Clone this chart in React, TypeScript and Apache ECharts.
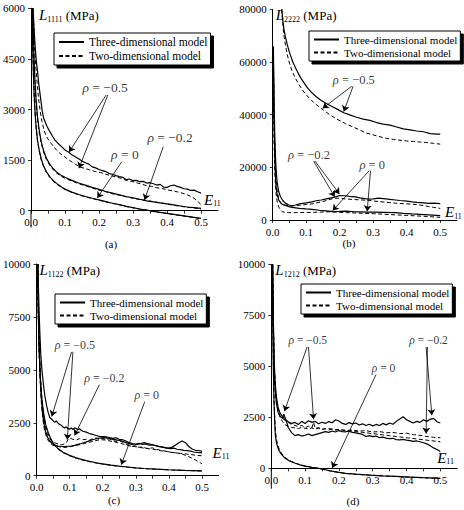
import React, { useEffect, useRef } from "react";
import * as echarts from "echarts";

const FONT = "Liberation Serif";
const NAME_3D = "Three-dimensional model";
const NAME_2D = "Two-dimensional model";

// ---------- tick values ----------
const xLabelTicks = [0, 0.1, 0.2, 0.3, 0.4, 0.5];
const xMinorTicks = [0, 0.05, 0.1, 0.15, 0.2, 0.25, 0.3, 0.35, 0.4, 0.45, 0.5];
const yTicksA = [0, 1500, 3000, 4500, 6000];
const yTicksB = [0, 20000, 40000, 60000, 80000];
const yTicksC = [0, 2500, 5000, 7500, 10000];
const yTicksD = [0, 2500, 5000, 7500, 10000];

// y-axis extension below zero (panels a and d)
const yExtA = [[0, 0], [0, -500]];
const yExtD = [[0, 0], [0, -1000]];

// ---------- panel (a): L1111 ----------
const a_rm05_3d = [[0.006,6000],[0.009,5400],[0.012,4900],[0.015,4500],[0.019,4150],[0.023,3750],[0.028,3350],[0.033,2950],[0.037,2750],[0.042,2620],[0.048,2480],[0.055,2350],[0.062,2230],[0.07,2100],[0.08,1990],[0.09,1900],[0.1,1800],[0.11,1740],[0.12,1660],[0.13,1600],[0.14,1540],[0.15,1470],[0.16,1420],[0.17,1380],[0.18,1300],[0.19,1270],[0.2,1220],[0.21,1190],[0.22,1160],[0.23,1100],[0.24,1080],[0.25,1040],[0.26,1010],[0.27,990],[0.28,920],[0.29,940],[0.3,890],[0.31,900],[0.32,860],[0.33,870],[0.34,820],[0.35,830],[0.36,800],[0.37,760],[0.38,780],[0.39,700],[0.4,690],[0.41,740],[0.42,760],[0.43,720],[0.44,690],[0.45,650],[0.46,640],[0.47,600],[0.48,610],[0.49,560],[0.5,520]];
const a_rm05_2d = [[0.006,6000],[0.01,5000],[0.014,4300],[0.018,3800],[0.022,3350],[0.027,2950],[0.032,2650],[0.038,2400],[0.045,2200],[0.055,2050],[0.065,1920],[0.075,1800],[0.085,1700],[0.1,1590],[0.115,1480],[0.13,1380],[0.145,1290],[0.16,1250],[0.175,1200],[0.19,1160],[0.205,1130],[0.22,1080],[0.235,1040],[0.25,1000],[0.265,960],[0.28,900],[0.295,870],[0.31,830],[0.325,790],[0.34,740],[0.355,720],[0.37,680],[0.385,660],[0.4,620],[0.415,590],[0.43,560],[0.445,520],[0.46,470],[0.475,400],[0.49,290],[0.5,170]];
const a_rm02_3d = [[0.005,6000],[0.007,5200],[0.009,4500],[0.012,3800],[0.015,3300],[0.019,2800],[0.024,2400],[0.03,2050],[0.037,1780],[0.045,1560],[0.055,1380],[0.065,1250],[0.075,1150],[0.09,1040],[0.1,990],[0.12,900],[0.14,820],[0.16,760],[0.18,690],[0.2,630],[0.22,570],[0.24,520],[0.26,470],[0.28,420],[0.3,380],[0.32,340],[0.34,290],[0.36,260],[0.38,230],[0.4,200],[0.42,170],[0.44,140],[0.46,110],[0.48,90],[0.5,70]];
const a_rm02_2d = [[0.005,6000],[0.007,5100],[0.009,4400],[0.012,3700],[0.015,3200],[0.019,2720],[0.024,2330],[0.03,2000],[0.037,1740],[0.045,1520],[0.055,1350],[0.065,1220],[0.075,1120],[0.09,1010],[0.1,960],[0.12,880],[0.14,800],[0.16,740],[0.18,670],[0.2,610],[0.22,560],[0.24,500],[0.26,460],[0.28,410],[0.3,370],[0.32,330],[0.34,300],[0.36,270],[0.38,230],[0.4,200],[0.42,160],[0.44,130],[0.46,100],[0.48,80],[0.5,50]];
const a_r0_3d = [[0.003,6000],[0.005,4900],[0.007,4100],[0.009,3500],[0.012,2900],[0.015,2500],[0.019,2100],[0.024,1800],[0.03,1540],[0.037,1330],[0.045,1160],[0.055,1010],[0.065,900],[0.075,810],[0.09,700],[0.1,640],[0.12,550],[0.14,480],[0.16,420],[0.18,370],[0.2,320],[0.22,270],[0.24,220],[0.26,180],[0.28,130],[0.3,90],[0.32,50],[0.34,20],[0.36,-20],[0.38,-50],[0.4,-80],[0.42,-110],[0.44,-140],[0.46,-170],[0.48,-200],[0.5,-230]];
const a_r0_2d = [[0.003,6000],[0.005,4850],[0.007,4050],[0.009,3450],[0.012,2850],[0.015,2460],[0.019,2070],[0.024,1770],[0.03,1510],[0.037,1300],[0.045,1140],[0.055,990],[0.065,880],[0.075,790],[0.09,690],[0.1,630],[0.12,540],[0.14,470],[0.16,410],[0.18,360],[0.2,310],[0.22,260],[0.24,215],[0.26,175],[0.28,125],[0.3,85],[0.32,45],[0.34,15],[0.36,-25],[0.38,-55],[0.4,-85],[0.42,-115],[0.44,-145],[0.46,-175],[0.48,-205],[0.5,-235]];
const a_labels = [[0.218, 3656, "−0.5"], [0.276, 1680, "0"], [0.409, 2164, "−0.2"]];
const a_arrows = [[0.221, 3430, 0.112, 1740], [0.226, 3430, 0.141, 1260], [0.267, 1452, 0.195, 380], [0.389, 1897, 0.334, 320]];

// ---------- panel (b): L2222 ----------
const b_rm05_3d = [[0.027,80000],[0.03,76000],[0.034,72000],[0.038,69500],[0.043,66800],[0.048,64500],[0.053,62500],[0.06,60000],[0.068,57800],[0.077,55500],[0.086,53500],[0.095,51800],[0.105,50000],[0.117,48300],[0.13,46800],[0.145,45400],[0.16,44200],[0.177,43100],[0.195,41900],[0.212,40700],[0.23,39900],[0.25,39000],[0.27,38300],[0.29,37800],[0.31,37000],[0.33,36400],[0.35,36000],[0.37,35300],[0.39,34600],[0.41,34200],[0.43,33800],[0.45,33500],[0.47,32800],[0.49,32600],[0.5,32600]];
const b_rm05_2d = [[0.027,80000],[0.03,75000],[0.033,70500],[0.038,66500],[0.043,63000],[0.05,59500],[0.058,56500],[0.067,54000],[0.078,51500],[0.088,49500],[0.098,47800],[0.11,46200],[0.125,44300],[0.14,42800],[0.152,41700],[0.17,40000],[0.19,38400],[0.217,36600],[0.24,35300],[0.26,34200],[0.277,33100],[0.3,32300],[0.32,31600],[0.34,31000],[0.36,30600],[0.38,30300],[0.4,30000],[0.42,29800],[0.44,29600],[0.46,29400],[0.48,29100],[0.5,28800]];
const b_rm02_3d = [[0.002,66000],[0.004,46000],[0.006,33000],[0.008,25000],[0.01,19500],[0.013,14500],[0.018,10800],[0.023,8900],[0.03,7400],[0.038,6400],[0.048,5700],[0.058,5400],[0.068,5700],[0.08,6100],[0.09,6300],[0.1,6500],[0.117,6900],[0.13,7300],[0.145,7600],[0.16,8000],[0.175,8400],[0.19,8900],[0.2,9300],[0.215,9200],[0.23,9000],[0.247,8800],[0.26,8400],[0.275,8100],[0.287,7900],[0.3,8000],[0.316,8300],[0.33,8100],[0.35,7800],[0.366,7600],[0.38,7400],[0.4,7200],[0.416,6900],[0.43,6700],[0.45,6500],[0.466,6300],[0.48,6400],[0.5,6200]];
const b_rm02_2d = [[0.002,64000],[0.004,42000],[0.006,29000],[0.008,21000],[0.01,16000],[0.013,11500],[0.018,8000],[0.023,6600],[0.03,6000],[0.038,5700],[0.048,5400],[0.058,5300],[0.068,5400],[0.08,5600],[0.1,5900],[0.117,6100],[0.13,6500],[0.15,7000],[0.165,7600],[0.182,8200],[0.2,8300],[0.217,8000],[0.24,7800],[0.267,7600],[0.29,7400],[0.316,7000],[0.34,6700],[0.366,6400],[0.39,6200],[0.416,6000],[0.44,5700],[0.466,5100],[0.48,4800],[0.5,4400]];
const b_r0_3d = [[0.002,60000],[0.004,38000],[0.006,25000],[0.008,17000],[0.01,12500],[0.013,9800],[0.018,7600],[0.025,6300],[0.033,5700],[0.045,5200],[0.058,4800],[0.08,4400],[0.1,4200],[0.117,4050],[0.14,3700],[0.16,3500],[0.18,3200],[0.2,3300],[0.217,3400],[0.24,3200],[0.26,3100],[0.282,3000],[0.3,3000],[0.33,2900],[0.366,2800],[0.39,2550],[0.416,2300],[0.44,2150],[0.466,1950],[0.5,1650]];
const b_r0_2d = [[0.002,50000],[0.004,30000],[0.006,19000],[0.008,13500],[0.011,9000],[0.014,6500],[0.018,5000],[0.023,3900],[0.028,3200],[0.035,2900],[0.048,2800],[0.07,2800],[0.1,2850],[0.117,2900],[0.14,3000],[0.167,3100],[0.19,3000],[0.22,2800],[0.25,2650],[0.267,2550],[0.3,2400],[0.33,2200],[0.366,1950],[0.4,1750],[0.43,1550],[0.466,1300],[0.5,1000]];
const b_labels = [[0.242, 53170, "−0.5"], [0.108, 24690, "−0.2"], [0.297, 20900, "0"]];
const b_arrows = [[0.236, 50800, 0.149, 42400], [0.24, 50800, 0.212, 41200], [0.122, 22400, 0.185, 8800], [0.126, 22400, 0.199, 9900], [0.288, 18700, 0.179, 3600], [0.292, 18700, 0.282, 3300]];

// ---------- panel (c): L1122 ----------
const c_rm05_3d = [[0.004,10000],[0.007,8200],[0.01,6800],[0.013,5700],[0.017,4900],[0.021,4300],[0.025,3800],[0.03,3350],[0.035,3000],[0.04,2750],[0.045,2680],[0.05,2600],[0.055,2520],[0.06,2580],[0.065,2480],[0.07,2420],[0.075,2380],[0.08,2300],[0.085,2250],[0.09,2310],[0.095,2220],[0.1,2200],[0.105,2250],[0.11,2180],[0.115,2260],[0.12,2230],[0.125,2170],[0.13,2220],[0.135,2150],[0.14,2100],[0.15,2060],[0.16,1990],[0.17,1950],[0.18,1900],[0.19,1860],[0.2,1850],[0.21,1830],[0.22,1800],[0.23,1760],[0.24,1790],[0.25,1720],[0.26,1700],[0.27,1640],[0.28,1560],[0.29,1520],[0.3,1490],[0.31,1530],[0.32,1480],[0.33,1500],[0.34,1440],[0.35,1460],[0.36,1420],[0.37,1380],[0.38,1360],[0.39,1310],[0.4,1300],[0.41,1350],[0.42,1450],[0.43,1560],[0.44,1640],[0.45,1560],[0.46,1380],[0.47,1260],[0.48,1200],[0.49,1190],[0.5,1150]];
const c_rm05_2d = [[0.004,10000],[0.006,7800],[0.008,6300],[0.011,5000],[0.014,4000],[0.018,3200],[0.022,2650],[0.027,2250],[0.033,1950],[0.04,1750],[0.047,1620],[0.055,1550],[0.065,1500],[0.075,1460],[0.085,1500],[0.09,1560],[0.095,1700],[0.1,1780],[0.11,1720],[0.12,1680],[0.13,1750],[0.14,1700],[0.15,1720],[0.16,1680],[0.17,1740],[0.18,1780],[0.19,1720],[0.2,1760],[0.21,1700],[0.22,1740],[0.23,1660],[0.24,1620],[0.25,1650],[0.26,1580],[0.27,1500],[0.28,1420],[0.29,1380],[0.3,1400],[0.31,1340],[0.32,1360],[0.33,1300],[0.34,1280],[0.35,1320],[0.36,1250],[0.37,1220],[0.38,1180],[0.39,1160],[0.4,1120],[0.41,1100],[0.42,1080],[0.43,1060],[0.44,1020],[0.45,960],[0.46,900],[0.47,820],[0.48,740],[0.49,650],[0.5,560]];
const c_rm02_3d = [[0.004,10000],[0.006,7600],[0.008,6000],[0.011,4700],[0.014,3800],[0.018,3000],[0.022,2500],[0.027,2100],[0.033,1820],[0.04,1640],[0.047,1520],[0.055,1450],[0.065,1400],[0.075,1380],[0.085,1370],[0.095,1390],[0.105,1400],[0.115,1430],[0.125,1480],[0.135,1520],[0.145,1570],[0.155,1620],[0.165,1680],[0.175,1720],[0.185,1760],[0.195,1790],[0.205,1800],[0.215,1770],[0.225,1740],[0.235,1700],[0.245,1680],[0.255,1650],[0.265,1600],[0.275,1540],[0.285,1490],[0.295,1450],[0.305,1480],[0.315,1520],[0.325,1560],[0.335,1520],[0.345,1480],[0.355,1440],[0.365,1400],[0.375,1360],[0.385,1340],[0.395,1300],[0.405,1280],[0.415,1300],[0.425,1250],[0.435,1230],[0.445,1200],[0.455,1180],[0.465,1160],[0.475,1120],[0.485,1100],[0.5,1080]];
const c_rm02_2d = [[0.004,10000],[0.006,7400],[0.008,5800],[0.011,4500],[0.014,3600],[0.018,2850],[0.022,2350],[0.027,1980],[0.033,1720],[0.04,1560],[0.047,1460],[0.055,1400],[0.065,1380],[0.075,1350],[0.085,1330],[0.095,1360],[0.105,1380],[0.115,1420],[0.125,1450],[0.135,1480],[0.145,1520],[0.155,1560],[0.165,1600],[0.175,1640],[0.185,1680],[0.195,1700],[0.205,1690],[0.215,1660],[0.225,1630],[0.235,1600],[0.245,1560],[0.255,1520],[0.265,1480],[0.275,1430],[0.285,1400],[0.295,1380],[0.305,1360],[0.315,1330],[0.325,1300],[0.335,1280],[0.345,1260],[0.355,1240],[0.365,1210],[0.375,1180],[0.385,1160],[0.395,1140],[0.405,1110],[0.415,1090],[0.425,1070],[0.435,1050],[0.445,1040],[0.455,1020],[0.465,1000],[0.475,980],[0.485,960],[0.5,940]];
const c_r0_3d = [[0.003,10000],[0.005,8000],[0.007,6500],[0.01,5200],[0.013,4300],[0.017,3500],[0.022,2900],[0.028,2400],[0.035,2050],[0.043,1750],[0.052,1500],[0.065,1280],[0.08,1110],[0.1,960],[0.12,840],[0.15,710],[0.18,610],[0.2,560],[0.225,500],[0.25,450],[0.275,410],[0.3,370],[0.325,340],[0.35,320],[0.375,300],[0.4,280],[0.425,265],[0.45,250],[0.475,240],[0.5,230]];
const c_r0_2d = [[0.003,10000],[0.005,7900],[0.007,6400],[0.01,5100],[0.013,4200],[0.017,3420],[0.022,2840],[0.028,2350],[0.035,2000],[0.043,1710],[0.052,1470],[0.065,1250],[0.08,1090],[0.1,940],[0.12,825],[0.15,695],[0.18,600],[0.2,550],[0.225,490],[0.25,440],[0.275,400],[0.3,365],[0.325,335],[0.35,312],[0.375,292],[0.4,272],[0.425,258],[0.45,244],[0.475,232],[0.5,222]];
const c_labels = [[0.116, 6174, "−0.5"], [0.205, 4600, "−0.2"], [0.333, 3812, "0"]];
const c_arrows = [[0.106, 5850, 0.046, 2800], [0.11, 5850, 0.093, 1700], [0.19, 4300, 0.115, 1900], [0.327, 3500, 0.256, 520]];

// ---------- panel (d): L1212 ----------
const d_rm02_3d = [[0.004,10000],[0.006,7400],[0.008,5600],[0.011,4300],[0.015,3500],[0.02,3000],[0.026,2700],[0.033,2550],[0.04,2400],[0.05,2280],[0.06,2200],[0.07,2250],[0.08,2150],[0.09,2300],[0.1,2200],[0.11,2330],[0.12,2250],[0.13,2300],[0.14,2180],[0.15,2260],[0.16,2200],[0.17,2290],[0.18,2230],[0.19,2380],[0.2,2320],[0.21,2200],[0.22,2150],[0.23,2240],[0.24,2180],[0.25,2220],[0.26,2120],[0.27,2180],[0.28,2100],[0.29,2160],[0.3,2080],[0.31,2150],[0.32,2100],[0.33,2200],[0.34,2130],[0.35,2220],[0.36,2160],[0.37,2300],[0.38,2420],[0.39,2530],[0.4,2380],[0.41,2300],[0.42,2220],[0.43,2300],[0.44,2250],[0.45,2380],[0.46,2300],[0.47,2400],[0.48,2450],[0.49,2280],[0.5,2220]];
const d_rm02_2d = [[0.004,10000],[0.006,7200],[0.008,5400],[0.011,4100],[0.015,3300],[0.02,2800],[0.026,2500],[0.033,2300],[0.04,2150],[0.05,2050],[0.06,2000],[0.07,1980],[0.08,1950],[0.09,2000],[0.1,1960],[0.11,1930],[0.12,1980],[0.13,1920],[0.14,1960],[0.15,1900],[0.16,1940],[0.17,1880],[0.18,1920],[0.19,1870],[0.2,1900],[0.22,1850],[0.24,1880],[0.26,1820],[0.28,1850],[0.3,1780],[0.32,1800],[0.34,1740],[0.36,1760],[0.38,1700],[0.4,1720],[0.42,1650],[0.44,1620],[0.46,1560],[0.48,1520],[0.5,1500]];
const d_rm05_3d = [[0.004,10000],[0.006,7000],[0.008,5200],[0.011,4000],[0.015,3200],[0.02,2750],[0.026,2550],[0.033,2450],[0.037,2650],[0.045,2300],[0.05,2000],[0.06,1750],[0.07,1600],[0.08,1650],[0.09,1580],[0.1,1620],[0.11,1680],[0.12,1600],[0.13,1650],[0.14,1700],[0.15,1750],[0.16,1800],[0.17,1760],[0.18,1830],[0.19,1780],[0.2,1850],[0.21,1800],[0.22,1790],[0.23,1820],[0.24,1760],[0.25,1740],[0.26,1700],[0.27,1660],[0.28,1560],[0.29,1600],[0.3,1550],[0.31,1580],[0.32,1500],[0.33,1530],[0.34,1480],[0.35,1450],[0.36,1470],[0.37,1400],[0.38,1390],[0.39,1420],[0.4,1380],[0.41,1360],[0.42,1320],[0.43,1340],[0.44,1300],[0.45,1250],[0.46,1200],[0.47,1100],[0.48,1000],[0.49,920],[0.5,820]];
const d_rm05_2d = [[0.004,10000],[0.006,7200],[0.008,5400],[0.011,4100],[0.015,3300],[0.02,2800],[0.026,2550],[0.033,2450],[0.04,2350],[0.05,2250],[0.06,2150],[0.07,2100],[0.08,2050],[0.09,2100],[0.1,2000],[0.11,2060],[0.12,1980],[0.125,2250],[0.13,1950],[0.14,2000],[0.15,1920],[0.17,1950],[0.19,1900],[0.21,1880],[0.23,1850],[0.25,1800],[0.27,1760],[0.29,1720],[0.31,1680],[0.33,1640],[0.35,1600],[0.37,1560],[0.39,1520],[0.41,1480],[0.43,1440],[0.45,1400],[0.47,1360],[0.49,1320],[0.5,1300]];
const d_r0_3d = [[0.003,10000],[0.004,8000],[0.005,6300],[0.006,5000],[0.007,4000],[0.008,3200],[0.01,2300],[0.012,1600],[0.016,1200],[0.022,900],[0.03,680],[0.041,490],[0.055,350],[0.071,245],[0.085,170],[0.1,110],[0.12,50],[0.14,0],[0.16,-70],[0.175,-130],[0.2,-200],[0.22,-245],[0.25,-290],[0.29,-330],[0.33,-370],[0.37,-400],[0.41,-430],[0.45,-460],[0.5,-490]];
const d_r0_2d = [[0.003,10000],[0.004,8200],[0.005,6600],[0.006,5300],[0.007,4300],[0.008,3500],[0.01,2600],[0.012,1850],[0.016,1350],[0.022,1000],[0.03,740],[0.041,520],[0.055,370],[0.071,255],[0.085,175],[0.1,110],[0.12,45],[0.14,-5],[0.16,-75],[0.175,-135],[0.2,-205],[0.22,-250],[0.25,-295],[0.29,-335],[0.33,-375],[0.37,-405],[0.41,-435],[0.45,-465],[0.5,-495]];
const d_labels = [[0.108, 6290, "−0.5"], [0.332, 4900, "0"], [0.465, 6290, "−0.2"]];
const d_arrows = [[0.106, 5950, 0.039, 2800], [0.11, 5950, 0.125, 2400], [0.31, 4600, 0.18, 20], [0.458, 5950, 0.475, 2600], [0.462, 5950, 0.458, 1700]];

// ---------- layout (positions / sizes / styles) ----------
const PANELS = [
  { tag: "(a)", tagX: 111, tagY: 244, left: 31, top: 8.3, width: 187, height: 202.4, yMin: 0, yMax: 6000, yTicks: yTicksA, sub: "1111", ext: yExtA,
    nameGap: -6.7, namePad: 8, eGap: -14, ePad: 3, annFont: 13.5, legLeft: 54, legTop: 33, legFont: 11.5,
    s3: [a_rm05_3d, a_rm02_3d, a_r0_3d], s2: [a_rm05_2d, a_rm02_2d, a_r0_2d], labels: a_labels, arrows: a_arrows },
  { tag: "(b)", tagX: 349, tagY: 243, left: 272.7, top: 9.3, width: 184.3, height: 210.7, yMin: 0, yMax: 80000, yTicks: yTicksB, sub: "2222", ext: null,
    nameGap: -5.7, namePad: 3, eGap: -12, ePad: 0, annFont: 12.5, legLeft: 309, legTop: 31, legFont: 11,
    s3: [b_rm05_3d, b_rm02_3d, b_r0_3d], s2: [b_rm05_2d, b_rm02_2d, b_r0_2d], labels: b_labels, arrows: b_arrows },
  { tag: "(c)", tagX: 114, tagY: 500, left: 32.3, top: 264, width: 186.3, height: 211.7, yMin: 0, yMax: 10000, yTicks: yTicksC, sub: "1122", ext: null,
    nameGap: -6, namePad: 3, eGap: -6, ePad: 15, annFont: 12, legLeft: 55, legTop: 294, legFont: 11,
    s3: [c_rm05_3d, c_rm02_3d, c_r0_3d], s2: [c_rm05_2d, c_rm02_2d, c_r0_2d], labels: c_labels, arrows: c_arrows },
  { tag: "(d)", tagX: 353, tagY: 501, left: 271.3, top: 264.3, width: 185.9, height: 204, yMin: 0, yMax: 10000, yTicks: yTicksD, sub: "1212", ext: yExtD,
    nameGap: -6, namePad: 4, eGap: -20, ePad: 2.5, annFont: 11.5, legLeft: 301, legTop: 284, legFont: 11,
    s3: [d_rm05_3d, d_rm02_3d, d_r0_3d], s2: [d_rm05_2d, d_rm02_2d, d_r0_2d], labels: d_labels, arrows: d_arrows },
];

function buildOption() {
  const grid: any[] = [];
  const xAxis: any[] = [];
  const yAxis: any[] = [];
  const series: any[] = [];
  const legend: any[] = [];
  const graphic: any[] = [];
  const black = "#000";

  PANELS.forEach((p, i) => {
    grid.push({ left: p.left, top: p.top, width: p.width, height: p.height, containLabel: false });
    xAxis.push({
      type: "value", gridIndex: i, min: 0, max: 0.55,
      name: "{E|E}{s|11}", nameLocation: "end", nameGap: p.eGap,
      nameTextStyle: {
        align: "left", verticalAlign: "bottom", padding: [0, 0, p.ePad, 0],
        rich: {
          E: { fontFamily: FONT, fontStyle: "italic", fontSize: 15, lineHeight: 16, color: black },
          s: { fontFamily: FONT, fontSize: 8, lineHeight: 8, verticalAlign: "bottom", color: black },
        },
      },
      axisLine: { show: true, onZero: false, lineStyle: { color: black, width: 1 } },
      axisTick: { show: true, customValues: xMinorTicks, length: 3, lineStyle: { color: black, width: 0.8 } },
      axisLabel: { show: true, customValues: xLabelTicks, formatter: (v: number) => v.toFixed(1), margin: 6, fontSize: 11, fontFamily: FONT, color: black },
      splitLine: { show: false },
    });
    yAxis.push({
      type: "value", gridIndex: i, min: p.yMin, max: p.yMax,
      name: `{L|L}{s|${p.sub}}{u| (MPa)}`, nameLocation: "end", nameGap: p.nameGap,
      nameTextStyle: {
        align: "left", verticalAlign: "middle", padding: [0, 0, 0, p.namePad],
        rich: {
          L: { fontFamily: FONT, fontStyle: "italic", fontSize: 15, lineHeight: 16, color: black },
          s: { fontFamily: FONT, fontSize: 8, lineHeight: 8, verticalAlign: "bottom", color: black },
          u: { fontFamily: FONT, fontSize: 13, lineHeight: 16, color: black },
        },
      },
      axisLine: { show: true, onZero: false, lineStyle: { color: black, width: 1 } },
      axisTick: { show: true, customValues: p.yTicks, length: 3, lineStyle: { color: black, width: 0.8 } },
      axisLabel: { show: true, customValues: p.yTicks, formatter: (v: number) => String(v), margin: 6, fontSize: 11, fontFamily: FONT, color: black },
      splitLine: { show: false },
    });

    p.s3.forEach((d) =>
      series.push({
        type: "line", name: NAME_3D, xAxisIndex: i, yAxisIndex: i, data: d, clip: false,
        symbol: "none", showSymbol: false, silent: true, z: 3,
        lineStyle: { color: black, width: 1.2, type: "solid" }, itemStyle: { color: black },
      })
    );
    p.s2.forEach((d) =>
      series.push({
        type: "line", name: NAME_2D, xAxisIndex: i, yAxisIndex: i, data: d, clip: false,
        symbol: "none", showSymbol: false, silent: true, z: 2,
        lineStyle: { color: black, width: 1, type: [4, 2.5] }, itemStyle: { color: black },
      })
    );
    if (p.ext) {
      series.push({
        type: "line", name: "axisExtension" + i, xAxisIndex: i, yAxisIndex: i, data: p.ext, clip: false,
        symbol: "none", showSymbol: false, silent: true, z: 4,
        lineStyle: { color: black, width: 1, type: "solid" },
      });
    }

    series.push({
      type: "scatter", name: "annotation" + i, xAxisIndex: i, yAxisIndex: i, symbolSize: 0, silent: true, z: 5,
      data: p.labels.map((l: any) => ({ value: [l[0], l[1]], name: l[2] })),
      label: {
        show: true, position: "inside",
        formatter: (q: any) => `{g|ρ}{t| = ${q.name}}`,
        rich: {
          g: { fontFamily: FONT, fontStyle: "italic", fontSize: p.annFont, color: black },
          t: { fontFamily: FONT, fontSize: p.annFont, color: black },
        },
      },
      markLine: {
        silent: true, animation: false, symbol: ["none", "arrow"], symbolSize: 6,
        label: { show: false }, emphasis: { disabled: true },
        lineStyle: { color: black, width: 0.8, type: "solid" },
        data: p.arrows.map((a: number[]) => [{ coord: [a[0], a[1]] }, { coord: [a[2], a[3]] }]),
      },
    });

    legend.push({
      data: [NAME_3D, NAME_2D], orient: "vertical", left: p.legLeft, top: p.legTop,
      itemWidth: 25, itemHeight: 10, itemGap: 2, padding: [3, 3, 3, 4],
      backgroundColor: "#fff", borderColor: black, borderWidth: 1, borderRadius: 0,
      shadowColor: black, shadowOffsetX: 3, shadowOffsetY: 3, shadowBlur: 0,
      selectedMode: false,
      itemStyle: { opacity: 0, borderWidth: 0 },
      textStyle: { fontFamily: FONT, fontSize: p.legFont, color: black },
    });

    graphic.push({
      type: "text", x: p.tagX, y: p.tagY, silent: true,
      style: { text: p.tag, fontFamily: FONT, fontSize: 11, fill: black, textAlign: "center", textVerticalAlign: "middle" },
    });
  });

  return { animation: false, backgroundColor: "#fff", textStyle: { fontFamily: FONT }, grid, xAxis, yAxis, series, legend, graphic };
}

export default function App() {
  const ref = useRef<HTMLDivElement>(null);
  useEffect(() => {
    if (!ref.current) return;
    const chart = echarts.init(ref.current, undefined, { renderer: "svg" });
    chart.setOption(buildOption() as any);
    return () => chart.dispose();
  }, []);
  return (
    <div
      ref={ref}
      style={{ position: "absolute", left: 0, top: 0, width: 464, height: 510, background: "#fff" }}
    />
  );
}
